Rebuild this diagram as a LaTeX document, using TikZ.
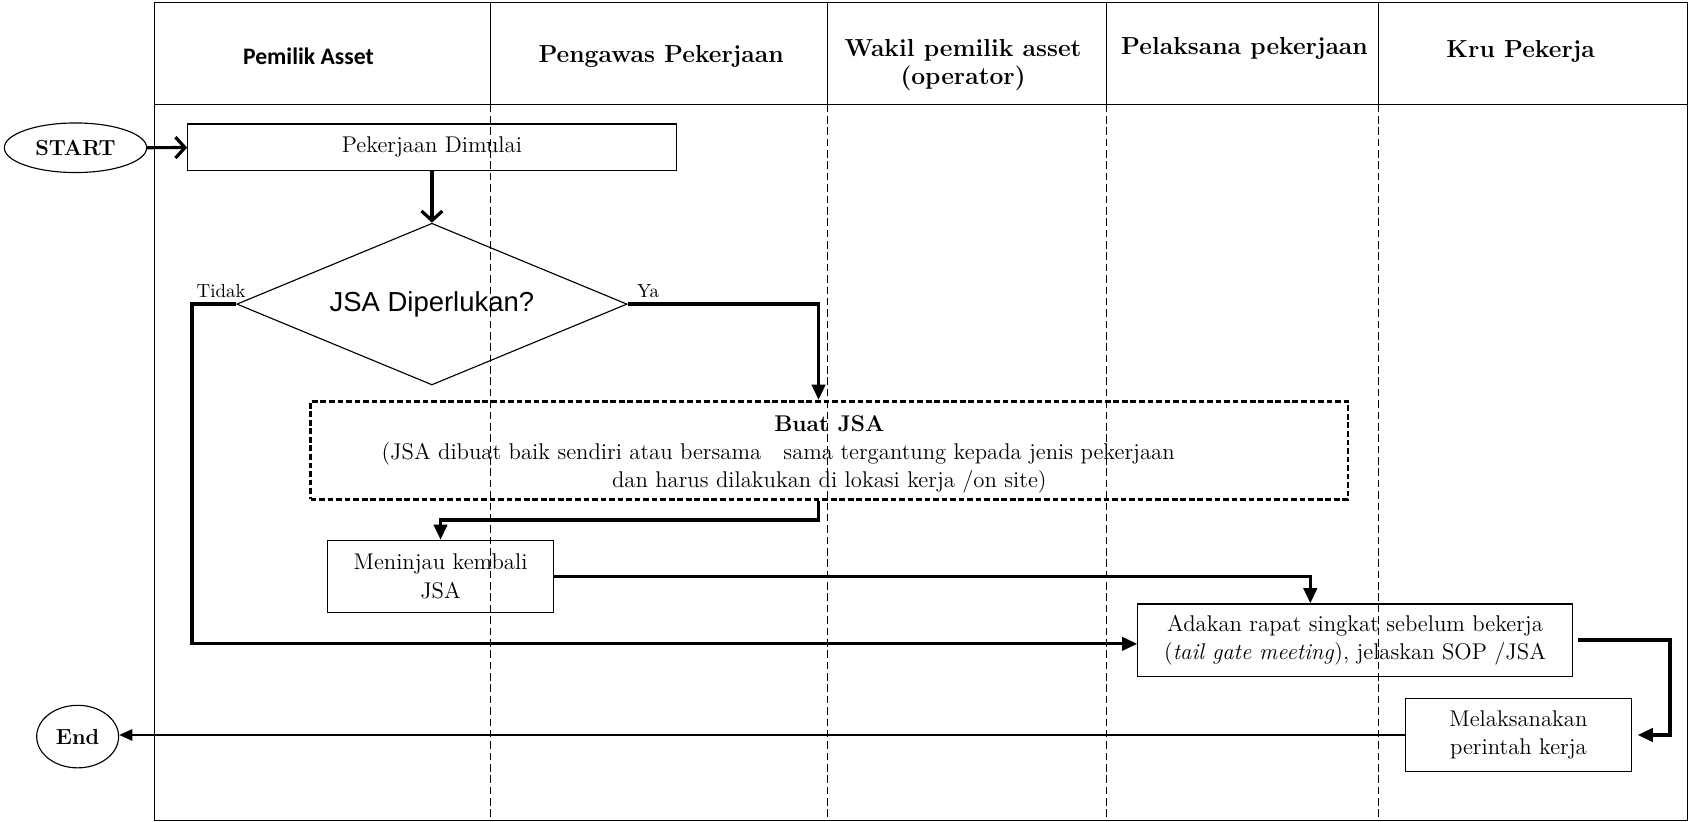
\documentclass[tikz,border=0pt]{standalone}
\usepackage{fontspec}
\newfontfamily\arialfont{Liberation Sans}
\newfontfamily\calibrifont{Carlito}
\usetikzlibrary{shapes.geometric,arrows.meta,positioning}

\tikzset{
	lane/.style={dash pattern=on 4pt off 2pt, line width=0.6pt},
	lanehead/.style={font=\fontsize{13}{16}\selectfont\bfseries, align=center},
	proc/.style={draw, rectangle, line width=0.6pt, align=center, inner sep=2pt,
		font=\fontsize{12}{15}\selectfont},
	terminal/.style={draw, ellipse, line width=0.6pt, inner sep=0pt,
		font=\fontsize{11.5}{13}\selectfont\bfseries},
	decision/.style={draw, diamond, line width=0.6pt, inner sep=0pt, aspect=2.4,
		minimum width=7.24cm, minimum height=3cm, font=\arialfont\fontsize{14.5}{17}\selectfont},
	flow/.style={line width=1.7pt, -{Triangle[length=8pt,width=7pt]}},
	barb/.style={line width=1.7pt, -{Straight Barb[length=5pt,width=11pt]}},
	choice/.style={font=\fontsize{10}{12}\selectfont},
}

\begin{document}
\begin{tikzpicture}[x=0.02cm, y=-0.02cm]
	\useasboundingbox (0,0) rectangle (1568,762);
	% lanes
	\draw[line width=0.6pt] (143,2) rectangle (1565,761);
	\draw[line width=0.6pt] (143,97) -- (1565,97);
	\foreach \x in {455,767,1026,1278} {
		\draw[line width=0.5pt] (\x,2) -- (\x,97);
		\draw[lane] (\x,97) -- (\x,761);
	}
	\node[lanehead, font=\calibrifont\fontsize{12.5}{15}\selectfont\bfseries] (h1) at (286,52) {Pemilik Asset};
	\node[lanehead] (h2) at (613,52) {Pengawas Pekerjaan};
	\node[lanehead, font=\fontsize{13}{14.8}\selectfont\bfseries] (h3) at (893,60) {Wakil pemilik asset\\(operator)};
	\node[lanehead] (h4) at (1154,45) {Pelaksana pekerjaan};
	\node[lanehead] (h5) at (1410,48) {Kru Pekerja};

	% flow
	\node[terminal, minimum width=2.64cm, minimum height=0.92cm] (start) at (70,137) {START};
	\node[proc, minimum width=9.06cm, minimum height=0.86cm] (mulai) at (400.5,136.5) {Pekerjaan Dimulai};
	\node[decision] (dec) [below of=mulai, node distance=2.91cm] {JSA Diperlukan?};
	\node[proc, line width=1.4pt, dash pattern=on 3pt off 1.5pt, minimum width=19.24cm, minimum height=1.82cm,
		font=\fontsize{12}{14.8}\selectfont] (buat) at (769,417.5)
		{\rule{0pt}{13pt}\textbf{Buat JSA}\\(JSA dibuat baik sendiri atau bersama\ \ \ sama tergantung kepada jenis pekerjaan\rule{1.9cm}{0pt}\\dan harus dilakukan di lokasi kerja /on site)};
	\node[proc, minimum width=4.18cm, minimum height=1.34cm] (tinjau) at (408.5,534.5) {Meninjau kembali\\JSA};
	\node[proc, minimum width=8.06cm, minimum height=1.34cm] (rapat) at (1256.5,593.5)
		{Adakan rapat singkat sebelum bekerja\\(\textit{tail gate meeting}), jelaskan SOP /JSA};
	\node[proc, minimum width=4.2cm, minimum height=1.34cm] (laksana) at (1408,681.5) {Melaksanakan\\perintah kerja};
	\node[terminal, minimum width=1.52cm, minimum height=1.16cm] (end) at (72,683) {End};

	\node[choice] (tidak) at (205,270) {Tidak};
	\node[choice] (ya) at (601,270) {Ya};

	\draw[barb] (start) -- (mulai);
	\draw[barb] (mulai) -- (dec);
	\draw[flow] (dec.west) -- ++(-41,0) |- ([yshift=-0.07cm]rapat.west);
	\draw[flow] (dec.east) -| ([xshift=-0.2cm]buat.north);
	\draw[flow] ([xshift=-0.2cm]buat.south) -- ++(0,18) -| (tinjau.north);
	\draw[flow] (tinjau.east) -| ([xshift=-0.83cm]rapat.north);
	\draw[flow] ([xshift=0.1cm]rapat.east) -- ++(85,0) |- ([xshift=0.1cm]laksana.east);
	\draw[line width=1.1pt, -{Triangle[length=7pt,width=6pt]}] (laksana.west) -- (laksana.west -| end.east);
\end{tikzpicture}
\end{document}
